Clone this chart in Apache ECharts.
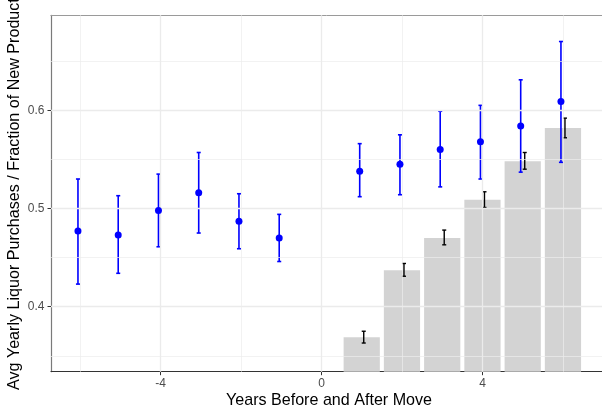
<!DOCTYPE html>
<html>
<head>
<meta charset="utf-8">
<script src="https://cdn.jsdelivr.net/npm/echarts@6/dist/echarts.min.js"></script>
<style>
  html, body { margin: 0; padding: 0; background: #ffffff; }
  #chart { width: 602px; height: 409px; }
</style>
</head>
<body>
<div id="chart"></div>
<script>
// Years relative to the move
const preYears = [-6, -5, -4, -3, -2, -1];
const postYears = [1, 2, 3, 4, 5, 6];

// Avg yearly liquor purchases (blue points with 95% intervals)
const preMean = [0.477, 0.473, 0.498, 0.516, 0.487, 0.470];
const preLow  = [0.423, 0.434, 0.461, 0.475, 0.459, 0.446];
const preHigh = [0.530, 0.513, 0.535, 0.557, 0.515, 0.494];

const postMean = [0.538, 0.545, 0.560, 0.568, 0.584, 0.609];
const postLow  = [0.512, 0.514, 0.522, 0.530, 0.537, 0.547];
const postHigh = [0.566, 0.575, 0.599, 0.605, 0.631, 0.670];

// Fraction of new products (grey bars with black intervals)
const newShare = [0.369, 0.437, 0.470, 0.509, 0.548, 0.582];
const newLow   = [0.363, 0.431, 0.463, 0.501, 0.540, 0.572];
const newHigh  = [0.375, 0.444, 0.478, 0.517, 0.557, 0.592];

// Axis ticks and grid lines
const xTicks = [-4, 0, 4];
const xMinor = [-6, -2, 2, 6];
const yTicks = [0.4, 0.5, 0.6];
const yMinor = [0.35, 0.45, 0.55, 0.65];

// Panel runs past the right edge of the canvas, so the visible window stops at ~6.97
const X_MIN = -6.72, X_MAX = 6.97;
const Y_MIN = 0.3338, Y_MAX = 0.6967;
const DODGE = 0.05;

const chart = echarts.init(document.getElementById('chart'), null, { renderer: 'canvas' });

const pointData = preYears.map((x, i) => [x - DODGE, preMean[i]])
  .concat(postYears.map((x, i) => [x - DODGE, postMean[i]]));
const blueErr = preYears.map((x, i) => [x - DODGE, preLow[i], preHigh[i]])
  .concat(postYears.map((x, i) => [x - DODGE, postLow[i], postHigh[i]]));
const barData = postYears.map((x, i) => [x, newShare[i]]);
const blackErr = postYears.map((x, i) => [x + DODGE, newLow[i], newHigh[i]]);

function errorBar(color, lw, capHalf) {
  return function (params, api) {
    const x = api.value(0);
    const top = api.coord([x, api.value(2)]);
    const bot = api.coord([x, api.value(1)]);
    const l = api.coord([x - capHalf, api.value(2)])[0];
    const r = api.coord([x + capHalf, api.value(2)])[0];
    const style = { stroke: color, lineWidth: lw };
    return {
      type: 'group',
      children: [
        { type: 'line', shape: { x1: top[0], y1: top[1], x2: bot[0], y2: bot[1] }, style },
        { type: 'line', shape: { x1: l, y1: top[1], x2: r, y2: top[1] }, style },
        { type: 'line', shape: { x1: l, y1: bot[1], x2: r, y2: bot[1] }, style }
      ]
    };
  };
}

const major = { type: 'solid', width: 1.3, color: '#ebebeb' };
const minor = { type: 'solid', width: 0.7, color: '#ededed' };
const gridLines = []
  .concat(yTicks.map(v => ({ yAxis: v, lineStyle: major })))
  .concat(yMinor.map(v => ({ yAxis: v, lineStyle: minor })))
  .concat(xTicks.map(v => ({ xAxis: v, lineStyle: major })))
  .concat(xMinor.map(v => ({ xAxis: v, lineStyle: minor })));

const textColor = '#4d4d4d';
const fontFamily = '"Liberation Sans", Arial, sans-serif';

chart.setOption({
  animation: false,
  backgroundColor: '#ffffff',
  grid: { left: 51, top: 15.3, right: 0, bottom: 37.3, show: false },
  xAxis: [
    {
      type: 'value', min: X_MIN, max: X_MAX,
      splitLine: { show: false },
      axisLine: { show: true, onZero: false, lineStyle: { color: '#333333', width: 1.2 } },
      axisTick: { show: true, customValues: xTicks, length: 3.5, lineStyle: { color: '#333333', width: 1 } },
      axisLabel: { customValues: xTicks, color: textColor, fontSize: 12, fontFamily, margin: 5.5 }
    },
    {
      // top edge of the panel
      type: 'value', position: 'top', min: X_MIN, max: X_MAX,
      splitLine: { show: false }, axisTick: { show: false }, axisLabel: { show: false },
      axisLine: { show: true, onZero: false, lineStyle: { color: '#9a9a9a', width: 1 } }
    }
  ],
  yAxis: {
    type: 'value', min: Y_MIN, max: Y_MAX,
    splitLine: { show: false },
    axisLine: { show: true, onZero: false, lineStyle: { color: '#7a7a7a', width: 1.2 } },
    axisTick: { show: true, customValues: yTicks, length: 3.5, lineStyle: { color: '#333333', width: 1 } },
    axisLabel: {
      customValues: yTicks, color: textColor, fontSize: 12, fontFamily, margin: 6.5,
      formatter: v => v.toFixed(1)
    }
  },
  graphic: [
    {
      type: 'text', x: 15, y: 390, rotation: Math.PI / 2,
      style: {
        text: 'Avg Yearly Liquor Purchases / Fraction of New Products',
        font: '16.1px "Liberation Sans", Arial, sans-serif',
        fill: '#000000', textAlign: 'left', textVerticalAlign: 'middle'
      }
    },
    {
      type: 'text', x: 329, y: 401,
      style: {
        text: 'Years Before and After Move',
        font: '16.1px "Liberation Sans", Arial, sans-serif',
        fill: '#000000', textAlign: 'center', textVerticalAlign: 'middle'
      }
    }
  ],
  series: [
    {
      name: 'grid', type: 'line', data: [], z: 0, silent: true,
      markLine: { silent: true, symbol: 'none', label: { show: false }, animation: false, data: gridLines }
    },
    {
      name: 'New products', type: 'custom', z: 2, data: barData,
      encode: { x: 0, y: 1 },
      renderItem: function (params, api) {
        const x = api.value(0), y = api.value(1);
        const p0 = api.coord([x - 0.45, y]);
        const p1 = api.coord([x + 0.45, Y_MIN]);
        return {
          type: 'rect',
          shape: { x: p0[0], y: p0[1], width: p1[0] - p0[0], height: p1[1] - p0[1] },
          style: { fill: '#d3d3d3' }
        };
      }
    },
    {
      name: 'New products CI', type: 'custom', z: 3, data: blackErr,
      encode: { x: 0, y: [1, 2] },
      renderItem: errorBar('#000000', 1.4, 0.05)
    },
    {
      name: 'Liquor CI', type: 'custom', z: 4, data: blueErr,
      encode: { x: 0, y: [1, 2] },
      renderItem: errorBar('#0000ff', 1.6, 0.05)
    },
    {
      name: 'Liquor', type: 'scatter', z: 5, data: pointData,
      symbol: 'circle', symbolSize: 7,
      itemStyle: { color: '#0000ff', opacity: 1 }
    }
  ]
});
</script>
</body>
</html>
